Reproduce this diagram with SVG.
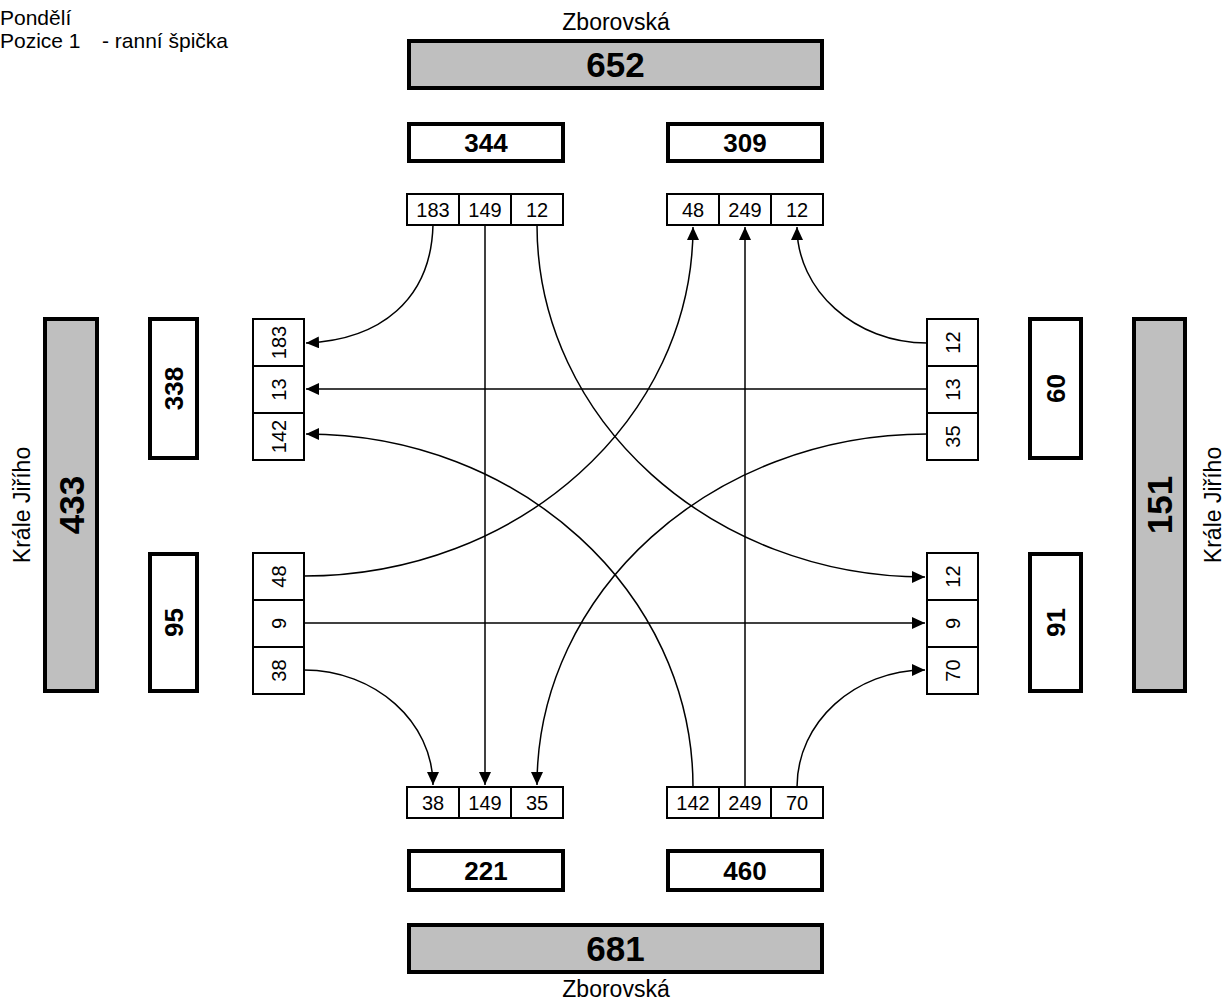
<svg xmlns="http://www.w3.org/2000/svg" width="1225" height="1001" viewBox="0 0 1225 1001">
<defs>
<style>
.big{fill:#BFBFBF;stroke:#000;stroke-width:4}
.mid{fill:#fff;stroke:#000;stroke-width:4}
.cell{fill:#fff;stroke:#000;stroke-width:2}
.lbl{font-family:"Liberation Sans",Arial,sans-serif;font-size:23px;fill:#000}
.tl{font-family:"Liberation Sans",Arial,sans-serif;font-size:21px;fill:#000}
.bt{font-family:"Liberation Sans",Arial,sans-serif;font-size:35px;font-weight:bold;text-anchor:middle;fill:#000}
.mt{font-family:"Liberation Sans",Arial,sans-serif;font-size:26px;font-weight:bold;text-anchor:middle;fill:#000}
.ct{font-family:"Liberation Sans",Arial,sans-serif;font-size:20px;text-anchor:middle;fill:#000}
.conn{fill:none;stroke:#000;stroke-width:1.5;marker-end:url(#arr)}
</style>
<marker id="arr" markerUnits="userSpaceOnUse" markerWidth="14" markerHeight="12" refX="13" refY="6" orient="auto">
<path d="M0,0 L13,6 L0,12 z" fill="#000"/>
</marker>
</defs>
<rect width="1225" height="1001" fill="#fff"/>

<g id="title">
<text class="tl" x="0" y="25">Pondělí</text>
<text class="tl" x="0" y="48">Pozice 1</text>
<text class="tl" x="102" y="48">- ranní špička</text>
</g>

<g id="north-road">
<text class="lbl" x="616" y="30" text-anchor="middle">Zborovská</text>
<rect class="big" x="409" y="41" width="413" height="47"/>
<text class="bt" x="615.5" y="77">652</text>
</g>
<g id="north-in"><rect class="mid" x="409" y="124" width="154" height="37"/><text class="mt" x="486" y="152">344</text></g>
<g id="north-out"><rect class="mid" x="668" y="124" width="154" height="37"/><text class="mt" x="745" y="152">309</text></g>
<g id="north-in-cells">
<rect class="cell" x="407" y="194" width="52" height="31"/><rect class="cell" x="459" y="194" width="52" height="31"/><rect class="cell" x="511" y="194" width="52" height="31"/>
<text class="ct" x="433" y="217">183</text><text class="ct" x="485" y="217">149</text><text class="ct" x="537" y="217">12</text>
</g>
<g id="north-out-cells">
<rect class="cell" x="667" y="194" width="52" height="31"/><rect class="cell" x="719" y="194" width="52" height="31"/><rect class="cell" x="771" y="194" width="52" height="31"/>
<text class="ct" x="693" y="217">48</text><text class="ct" x="745" y="217">249</text><text class="ct" x="797" y="217">12</text>
</g>

<g id="south-road">
<rect class="big" x="409" y="925" width="413" height="47"/>
<text class="bt" x="615.5" y="961">681</text>
<text class="lbl" x="616" y="997" text-anchor="middle">Zborovská</text>
</g>
<g id="south-out"><rect class="mid" x="409" y="851" width="154" height="39"/><text class="mt" x="486" y="880">221</text></g>
<g id="south-in"><rect class="mid" x="668" y="851" width="154" height="39"/><text class="mt" x="745" y="880">460</text></g>
<g id="south-out-cells">
<rect class="cell" x="407" y="787" width="52" height="31"/><rect class="cell" x="459" y="787" width="52" height="31"/><rect class="cell" x="511" y="787" width="52" height="31"/>
<text class="ct" x="433" y="810">38</text><text class="ct" x="485" y="810">149</text><text class="ct" x="537" y="810">35</text>
</g>
<g id="south-in-cells">
<rect class="cell" x="667" y="787" width="52" height="31"/><rect class="cell" x="719" y="787" width="52" height="31"/><rect class="cell" x="771" y="787" width="52" height="31"/>
<text class="ct" x="693" y="810">142</text><text class="ct" x="745" y="810">249</text><text class="ct" x="797" y="810">70</text>
</g>

<g id="west-road">
<text class="lbl" text-anchor="middle" transform="translate(22,505) rotate(-90)" dy="8">Krále Jiřího</text>
<rect class="big" x="45" y="319" width="52" height="372"/>
<text class="bt" transform="translate(71,505) rotate(-90)" y="12.5">433</text>
</g>
<g id="west-out"><rect class="mid" x="150" y="319" width="47" height="139"/><text class="mt" transform="translate(173.5,388.5) rotate(-90)" y="9.3">338</text></g>
<g id="west-in"><rect class="mid" x="150" y="554" width="47" height="137"/><text class="mt" transform="translate(173.5,622.5) rotate(-90)" y="9.3">95</text></g>
<g id="west-out-cells">
<rect class="cell" x="253" y="319" width="51" height="47"/><rect class="cell" x="253" y="366" width="51" height="47"/><rect class="cell" x="253" y="413" width="51" height="47"/>
<text class="ct" transform="translate(278.5,342.5) rotate(-90)" y="7">183</text>
<text class="ct" transform="translate(278.5,389.5) rotate(-90)" y="7">13</text>
<text class="ct" transform="translate(278.5,436.5) rotate(-90)" y="7">142</text>
</g>
<g id="west-in-cells">
<rect class="cell" x="253" y="553" width="51" height="47"/><rect class="cell" x="253" y="600" width="51" height="47"/><rect class="cell" x="253" y="647" width="51" height="47"/>
<text class="ct" transform="translate(278.5,576.5) rotate(-90)" y="7">48</text>
<text class="ct" transform="translate(278.5,623.5) rotate(-90)" y="7">9</text>
<text class="ct" transform="translate(278.5,670.5) rotate(-90)" y="7">38</text>
</g>

<g id="east-road">
<rect class="big" x="1134" y="319" width="51" height="372"/>
<text class="bt" transform="translate(1159.5,505) rotate(-90)" y="12.5">151</text>
<text class="lbl" text-anchor="middle" transform="translate(1213,505) rotate(-90)" dy="8">Krále Jiřího</text>
</g>
<g id="east-in"><rect class="mid" x="1030" y="319" width="51" height="139"/><text class="mt" transform="translate(1055.5,388.5) rotate(-90)" y="9.3">60</text></g>
<g id="east-out"><rect class="mid" x="1030" y="554" width="51" height="137"/><text class="mt" transform="translate(1055.5,622.5) rotate(-90)" y="9.3">91</text></g>
<g id="east-in-cells">
<rect class="cell" x="927" y="319" width="51" height="47"/><rect class="cell" x="927" y="366" width="51" height="47"/><rect class="cell" x="927" y="413" width="51" height="47"/>
<text class="ct" transform="translate(952.5,342.5) rotate(-90)" y="7">12</text>
<text class="ct" transform="translate(952.5,389.5) rotate(-90)" y="7">13</text>
<text class="ct" transform="translate(952.5,436.5) rotate(-90)" y="7">35</text>
</g>
<g id="east-out-cells">
<rect class="cell" x="927" y="553" width="51" height="47"/><rect class="cell" x="927" y="600" width="51" height="47"/><rect class="cell" x="927" y="647" width="51" height="47"/>
<text class="ct" transform="translate(952.5,576.5) rotate(-90)" y="7">12</text>
<text class="ct" transform="translate(952.5,623.5) rotate(-90)" y="7">9</text>
<text class="ct" transform="translate(952.5,670.5) rotate(-90)" y="7">70</text>
</g>

<g id="connectors">
<path class="conn" d="M433,225 C431,300 380,340 306,343"/>
<path class="conn" d="M485,225 L485,785"/>
<path class="conn" d="M537,225 C537,420 712,577 925,577"/>
<path class="conn" d="M927,343 C855,343 797,290 797,227"/>
<path class="conn" d="M927,389 L306,389"/>
<path class="conn" d="M927,434 C712,434 537,592 537,785"/>
<path class="conn" d="M304,576 C519,576 693,419 693,227"/>
<path class="conn" d="M304,623 L925,623"/>
<path class="conn" d="M304,670 C375,670 433,722 433,785"/>
<path class="conn" d="M693,787 C693,592 519,434 306,434"/>
<path class="conn" d="M745,787 L745,227"/>
<path class="conn" d="M797,787 C797,722 855,670 925,670"/>
</g>
</svg>
